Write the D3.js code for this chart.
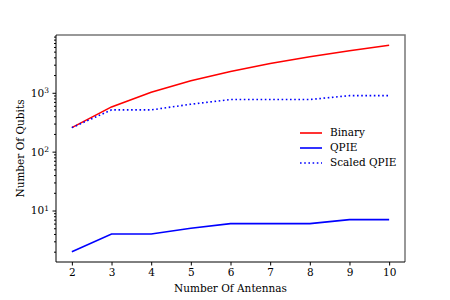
<!DOCTYPE html>
<html>
<head>
<meta charset="utf-8">
<script src="https://cdn.jsdelivr.net/npm/d3@7"></script>
<style>
  body { margin: 0; background: #fff; }
  svg { display: block; }
  text { font-family: "DejaVu Serif", serif; }
</style>
</head>
<body>
<div id="chart"></div>
<script>
const antennas = [2, 3, 4, 5, 6, 7, 8, 9, 10];
const binary = [256, 576, 1024, 1600, 2304, 3136, 4096, 5184, 6400];
const qpie = [2, 4, 4, 5, 6, 6, 6, 7, 7];
const scaledQpie = [256, 512, 512, 640, 768, 768, 768, 896, 896];
const yTickValues = [10, 100, 1000];
const seriesNames = ['Binary', 'QPIE', 'Scaled QPIE'];

const width = 450, height = 300;
const margin = { top: 35, right: 45, bottom: 38, left: 56 };
const w = width - margin.left - margin.right;
const h = height - margin.top - margin.bottom;

const svg = d3.select('#chart').append('svg')
  .attr('width', width)
  .attr('height', height);

const g = svg.append('g')
  .attr('transform', `translate(${margin.left},${margin.top})`);

// matplotlib style 5% margins
const x = d3.scaleLinear().domain([1.6, 10.4]).range([0, w]);
const lo = Math.log10(2), hi = Math.log10(6400), pad = (hi - lo) * 0.05;
const y = d3.scaleLog().domain([Math.pow(10, lo - pad), Math.pow(10, hi + pad)]).range([h, 0]);

const series = [
  { name: seriesNames[0], values: binary, color: '#ff0000', dash: null },
  { name: seriesNames[1], values: qpie, color: '#0000ff', dash: null },
  { name: seriesNames[2], values: scaledQpie, color: '#0000ff', dash: '1.6,2.6' },
];

const line = d3.line()
  .x((d, i) => x(antennas[i]))
  .y(d => y(d));

series.forEach(s => {
  g.append('path')
    .datum(s.values)
    .attr('fill', 'none')
    .attr('stroke', s.color)
    .attr('stroke-width', 1.6)
    .attr('stroke-dasharray', s.dash)
    .attr('d', line);
});

// x axis
const xAxis = g.append('g')
  .attr('transform', `translate(0,${h})`)
  .call(d3.axisBottom(x).tickValues(antennas).tickFormat(d3.format('d')).tickSize(3.5).tickPadding(3.5));
xAxis.select('.domain').remove();
xAxis.selectAll('text').attr('font-size', 10.5).attr('fill', '#000').style('font-family', 'DejaVu Serif');

// y axis, minor ticks
const minor = [];
for (let e = 0; e <= 3; e++) {
  for (let k = 2; k <= 9; k++) {
    const v = k * Math.pow(10, e);
    if (v >= y.domain()[0] && v <= y.domain()[1]) minor.push(v);
  }
}
const yMinor = g.append('g')
  .call(d3.axisLeft(y).tickValues(minor).tickFormat('').tickSize(2));
yMinor.select('.domain').remove();

const yAxis = g.append('g')
  .call(d3.axisLeft(y).tickValues(yTickValues).tickFormat(() => '').tickSize(3.5).tickPadding(3.5));
yAxis.select('.domain').remove();
yAxis.selectAll('.tick').each(function (d) {
  const t = d3.select(this).append('text')
    .attr('x', -7)
    .attr('dy', '0.32em')
    .attr('text-anchor', 'end')
    .attr('fill', '#000')
    .attr('font-size', 10.5);
  t.append('tspan').text('10');
  t.append('tspan').attr('dy', '-0.45em').attr('font-size', 7.5).text(Math.round(Math.log10(d)));
});

// frame: top/right look lighter in the original
g.append('path')
  .attr('d', `M0,0H${w}V${h}`)
  .attr('fill', 'none').attr('stroke', '#777').attr('stroke-width', 1.5);
g.append('path')
  .attr('d', `M0,0V${h}H${w}`)
  .attr('fill', 'none').attr('stroke', '#000').attr('stroke-width', 1);

// labels
svg.append('text')
  .attr('x', margin.left + w / 2)
  .attr('y', 292)
  .attr('text-anchor', 'middle')
  .attr('font-size', 10.5)
  .text('Number Of Antennas');

svg.append('text')
  .attr('transform', `translate(24,${margin.top + h / 2}) rotate(-90)`)
  .attr('text-anchor', 'middle')
  .attr('font-size', 10.5)
  .text('Number Of Qubits');

// legend
const legend = svg.append('g').attr('transform', 'translate(300,133)');
series.forEach((s, i) => {
  const row = legend.append('g').attr('transform', `translate(0,${i * 15})`);
  row.append('line')
    .attr('x1', 0).attr('x2', 22).attr('y1', 0).attr('y2', 0)
    .attr('stroke', s.color)
    .attr('stroke-width', 1.6)
    .attr('stroke-dasharray', s.dash);
  row.append('text')
    .attr('x', 30)
    .attr('dy', '0.32em')
    .attr('font-size', 10.5)
    .text(s.name);
});
</script>
</body>
</html>
